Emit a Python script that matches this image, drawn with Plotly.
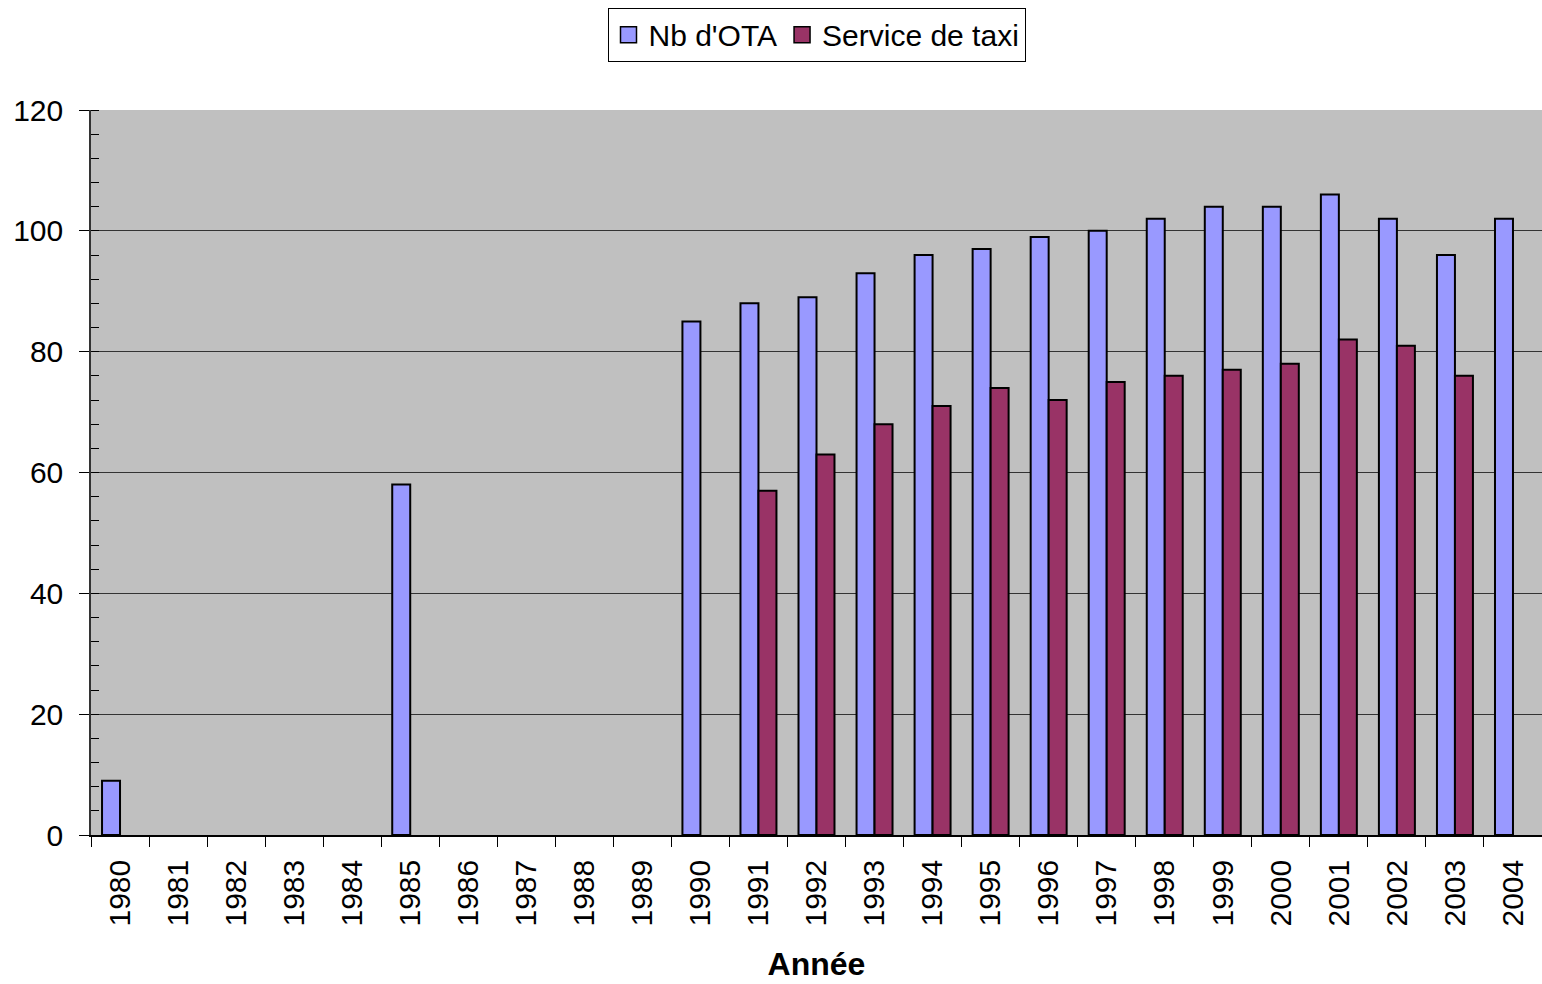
import plotly.graph_objects as go

years = [str(y) for y in range(1980, 2005)]
nb_ota = [9, None, None, None, None, 58, None, None, None, None,
          85, 88, 89, 93, 96, 97, 99, 100, 102, 104, 104, 106, 102, 96, 102]
taxi = [None, None, None, None, None, None, None, None, None, None,
        None, 57, 63, 68, 71, 74, 72, 75, 76, 77, 78, 82, 81, 76, None]
series_names = ["Nb d'OTA", "Service de taxi"]
series_colors = ["#9999FF", "#993366"]

font_family = "Liberation Sans, Arial, sans-serif"

fig = go.Figure()
for vals, name, col in zip([nb_ota, taxi], series_names, series_colors):
    fig.add_trace(go.Bar(x=years, y=vals, name=name, showlegend=False,
                         marker=dict(color=col, line=dict(color="black", width=2))))
# legend entries with larger square swatches
for name, col in zip(series_names, series_colors):
    fig.add_trace(go.Scatter(x=[None], y=[None], mode="markers", name=name,
                             marker=dict(symbol="square", size=16, color=col,
                                         line=dict(color="black", width=1.5))))

fig.update_layout(
    width=1542, height=984,
    margin=dict(l=91, r=0, t=110, b=149),
    paper_bgcolor="white",
    plot_bgcolor="#C0C0C0",
    barmode="group",
    bargap=0.38,
    bargroupgap=0,
    font=dict(family=font_family, size=30, color="black"),
    showlegend=True,
    legend=dict(orientation="h", x=0.5, xanchor="center", y=1.141, yanchor="top",
                bgcolor="white", bordercolor="black", borderwidth=1,
                font=dict(size=30), itemwidth=30, tracegroupgap=0),
    xaxis=dict(
        type="category",
        tickangle=-90,
        ticks="outside", ticklen=10, tickcolor="black", tickwidth=1,
        tickson="boundaries",
        ticklabelstandoff=11,
        showline=True, linecolor="black", linewidth=1.5,
        showgrid=False,
        title=dict(text="<b>Année</b>", font=dict(size=32), standoff=27),
        tickfont=dict(size=30),
    ),
    yaxis=dict(
        range=[0, 120],
        tick0=0, dtick=20,
        ticks="outside", ticklen=10, tickcolor="black", tickwidth=1,
        ticklabelstandoff=10,
        showline=True, linecolor="#333333", linewidth=1.5,
        showgrid=True, gridcolor="#333333", gridwidth=1,
        zeroline=False,
        tickfont=dict(size=30),
        minor=dict(dtick=4, ticks="inside", ticklen=8, tickcolor="black", showgrid=False),
    ),
)

fig.write_html("out.html", config={"displayModeBar": False},
               post_script="document.body.style.margin='0px';document.body.style.overflow='hidden';")
